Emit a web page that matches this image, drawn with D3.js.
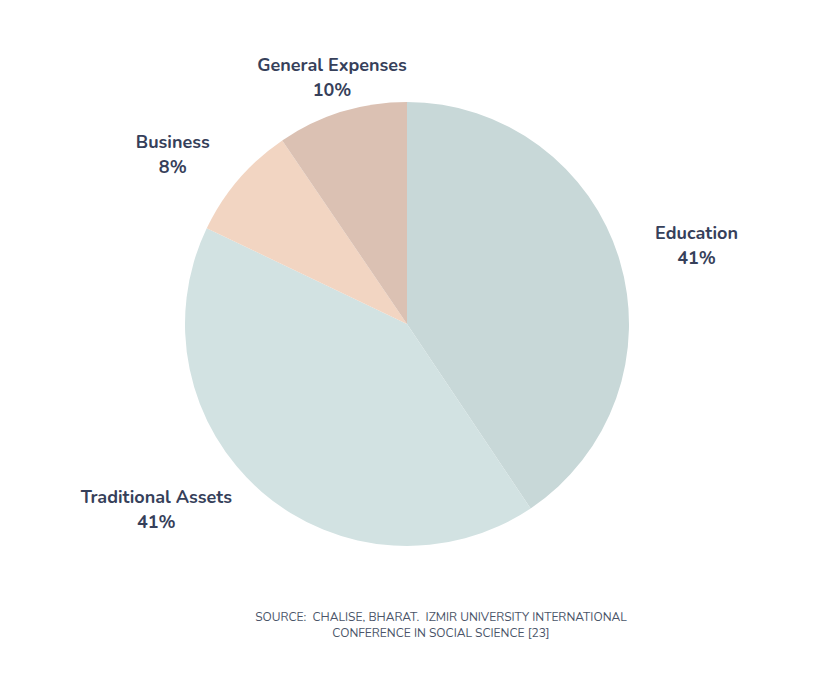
<!DOCTYPE html>
<html>
<head>
<meta charset="utf-8">
<script src="https://cdn.jsdelivr.net/npm/d3@7"></script>
<style>
	body { margin: 0; background: #fff; }
	text { font-family: 'Nunito', 'Lato', 'Open Sans', sans-serif; }
</style>
</head>
<body>
<div id="chart"></div>
<script>
// slices, clockwise from 12 o'clock
const categories = ['Education', 'Traditional Assets', 'Business', 'General Expenses'];
const shares = [40.6, 41.5, 8.4, 9.5];
const shareLabels = ['41%', '41%', '8%', '10%'];
const colors = ['#c8d8d8', '#d2e2e2', '#f2d5c2', '#dbc1b3'];
const sourceLines = ['SOURCE:  CHALISE, BHARAT.  IZMIR UNIVERSITY INTERNATIONAL',
	'CONFERENCE IN SOCIAL SCIENCE [23]'];

const width = 821, height = 691;
const cx = 407, cy = 324, radius = 222;

let data = categories.map((c, i) => ({cat: c, value: shares[i], label: shareLabels[i], color: colors[i]}));

let svg = d3.select('#chart').append('svg')
	.attr('width', width)
	.attr('height', height);

let g = svg.append('g').attr('transform', `translate(${cx}, ${cy})`);

let pie = d3.pie().sort(null).value((d) => d.value);
let arc = d3.arc().innerRadius(0).outerRadius(radius);

let arcs = pie(data);

g.selectAll('path.slice')
	.data(arcs)
	.enter().append('path')
	.attr('class', 'slice')
	.attr('d', arc)
	.style('fill', (d) => d.data.color);

let labels = g.selectAll('g.label')
	.data(arcs)
	.enter().append('g')
	.attr('class', 'label');

labels.each(function(d) {
	let lg = d3.select(this);
	let t = lg.append('text')
		.attr('text-anchor', 'middle')
		.style('font-size', '18px')
		.style('font-weight', 'bold')
		.style('fill', '#36405a');
	t.append('tspan').attr('x', 0).attr('y', 0).text(d.data.cat);
	t.append('tspan').attr('x', 0).attr('y', 25).text(d.data.label);
	// push the label block sideways so it sits outside the pie
	let mid = (d.startAngle + d.endAngle) / 2;
	let s = Math.sin(mid), c = Math.cos(mid);
	let half = t.node().getBBox().width / 2;
	let dx = Math.abs(s) < 0.4 ? 0 : (s > 0 ? half : -half) * 1.1;
	let px = s * (radius + 33) + dx;
	let py = -c * (radius + 30) - 12;
	lg.attr('transform', `translate(${px}, ${py})`);
});

let src = svg.append('text')
	.attr('text-anchor', 'middle')
	.style('font-size', '12px')
	.style('fill', '#4a5468');
sourceLines.forEach((l, i) => {
	src.append('tspan').attr('x', 441).attr('y', 621 + i * 16)
		.attr('xml:space', 'preserve')
		.text(l);
});
</script>
</body>
</html>
